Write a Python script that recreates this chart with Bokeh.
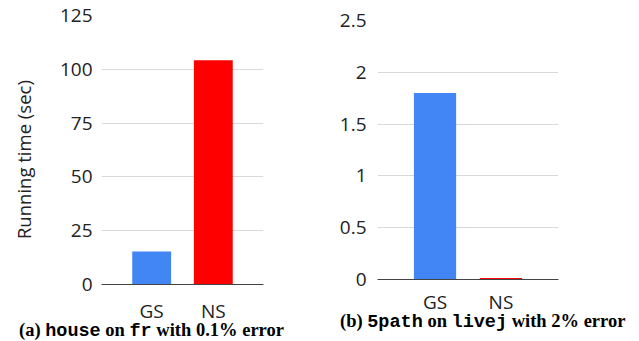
from bokeh.plotting import figure
from bokeh.models import FactorRange, Range1d, FixedTicker, Div
from bokeh.layouts import row, column
from bokeh.embed import file_html
from bokeh.resources import INLINE

categories = ["GS", "NS"]
bar_colors = ["#4285F4", "#FF0000"]

# Panel (a): house on fr with 0.1% error
times_a = [15.3, 104.2]
ticks_a = [0, 25, 50, 75, 100, 125]

# Panel (b): 5path on livej with 2% error
times_b = [1.8, 0.015]
ticks_b = [0, 0.5, 1, 1.5, 2, 2.5]
tick_labels_b = ["0", "0.5", "1", "1.5", "2", "2.5"]

y_title = "Running time (sec)"
MONO = "font-family:'Liberation Mono',monospace;"
caption_a = ('<b>(a) <span style="' + MONO + '">house</span> on <span style="' + MONO +
             '">fr</span> with 0.1% error</b>')
caption_b = ('<b>(b) <span style="' + MONO + '">5path</span> on <span style="' + MONO +
             '">livej</span> with 2% error</b>')

FONT = "Open Sans"


def make_panel(values, ticks, ymax, pad, bw, width, height, bl, br, bt, bb,
               overrides=None, standoff=9, xstandoff=7):
    p = figure(x_range=FactorRange(factors=categories, range_padding=pad, range_padding_units="absolute"),
               y_range=Range1d(0, ymax), width=width, height=height,
               output_backend="svg", toolbar_location=None,
               min_border_left=bl, min_border_right=br, min_border_top=bt, min_border_bottom=bb)
    p.vbar(x=categories, top=values, width=bw, color=bar_colors, line_color=None)
    p.outline_line_color = None
    p.background_fill_alpha = 0
    p.border_fill_alpha = 0
    p.xgrid.grid_line_color = None
    p.ygrid.grid_line_color = "#d9d9d9"
    p.ygrid.grid_line_width = 1
    p.yaxis.ticker = FixedTicker(ticks=ticks)
    if overrides:
        p.yaxis.major_label_overrides = overrides
    p.yaxis.axis_line_color = None
    p.yaxis.major_tick_line_color = None
    p.yaxis.minor_tick_line_color = None
    p.yaxis.major_label_standoff = standoff
    p.yaxis.major_label_text_font = FONT
    p.yaxis.major_label_text_font_size = "19px"
    p.yaxis.major_label_text_color = "#222222"
    p.xaxis.axis_line_color = "#444444"
    p.xaxis.major_tick_line_color = None
    p.xaxis.minor_tick_line_color = None
    p.xaxis.major_label_standoff = xstandoff
    p.xaxis.major_label_text_font = FONT
    p.xaxis.major_label_text_font_size = "19px"
    p.xaxis.major_label_text_color = "#222222"
    return p


# left: frame x 101..263, y 15..284 ; right: frame x 377..558, y 20..279
pa = make_panel(times_a, ticks_a, 125, 0.314, 0.63, 318, 326, 101, 55, 15, 42, standoff=3, xstandoff=7)
pb = make_panel(times_b, ticks_b, 2.5, 0.372, 0.64, 321, 322, 59, 81, 20, 43,
                overrides={t: l for t, l in zip(ticks_b, tick_labels_b)}, standoff=5, xstandoff=3)

# trailing no-break spaces shift the rotated title slightly below the frame centre, as in the reference
pa.yaxis.axis_label = y_title + "\u00a0\u00a0\u00a0\u00a0"
pa.yaxis.axis_label_text_font = FONT
pa.yaxis.axis_label_text_font_size = "18.5px"
pa.yaxis.axis_label_text_font_style = "normal"
pa.yaxis.axis_label_text_color = "#222222"
pa.yaxis.axis_label_standoff = 21

base = "font-family:'Liberation Serif',serif;font-size:18.5px;color:#000;text-align:left;white-space:nowrap;"
div_a = Div(text='<div style="' + base + 'margin-left:19px;line-height:24px;">' + caption_a + '</div>',
            width=318, height=23, margin=(-8, 0, 0, 0))
div_b = Div(text='<div style="' + base + 'margin-left:22px;line-height:14px;">' + caption_b + '</div>',
            width=321, height=27, margin=(-8, 0, 0, 0))

layout = row(column(pa, div_a), column(pb, div_b))

open("out.html", "w").write(file_html(layout, INLINE))
